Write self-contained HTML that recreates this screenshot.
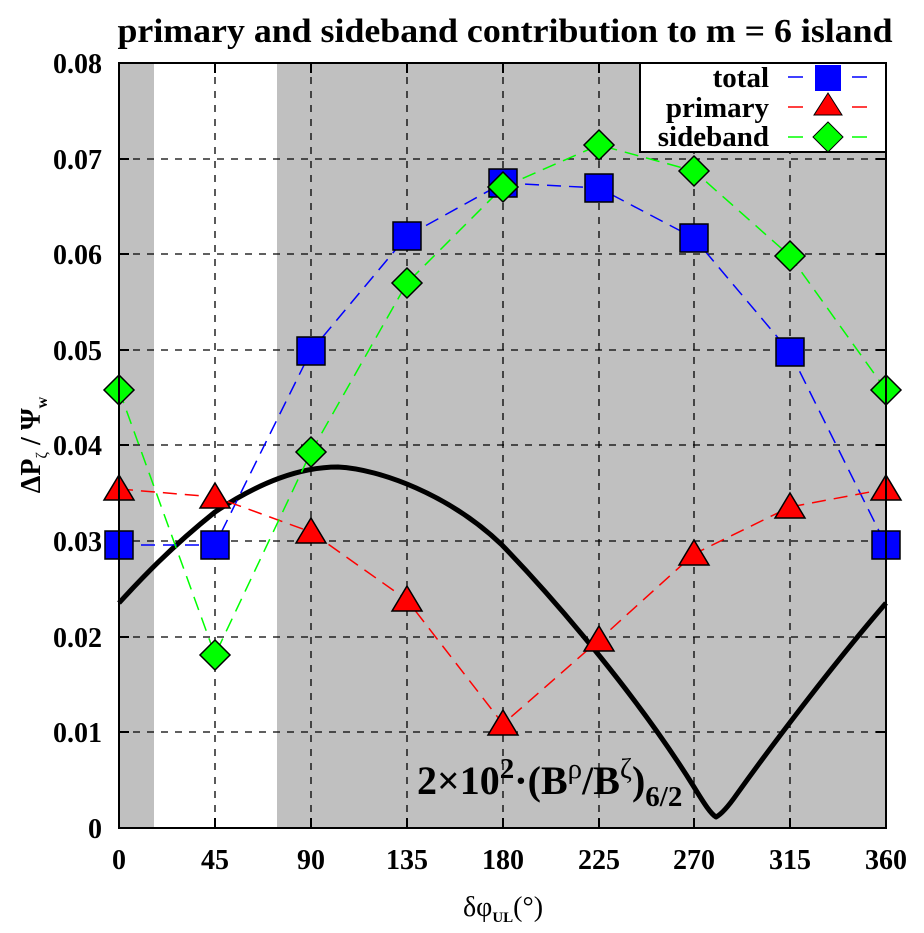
<!DOCTYPE html>
<html><head><meta charset="utf-8"><style>
body{margin:0;background:#fff}
text{font-family:"Liberation Serif",serif;font-weight:bold}
</style></head><body>
<svg width="924" height="928" viewBox="0 0 924 928" xmlns="http://www.w3.org/2000/svg">
<rect x="119" y="63" width="767" height="765" fill="#c0c0c0"/>
<rect x="154" y="63" width="123" height="765" fill="#fff"/>
<g stroke="#000" stroke-width="1.3" stroke-dasharray="7,7" fill="none">
<path d="M215 63V828M311 63V828M407 63V828M503 63V828M599 63V828M694 63V828M790 63V828"/>
<path d="M119 159H886M119 254H886M119 350H886M119 445H886M119 541H886M119 637H886M119 732H886"/>
</g>
<g stroke="#000" stroke-width="2">
<path d="M119 159h10M119 254h10M119 350h10M119 445h10M119 541h10M119 637h10M119 732h10"/>
<path d="M886 159h-10M886 254h-10M886 350h-10M886 445h-10M886 541h-10M886 637h-10M886 732h-10"/>
<path d="M215 828v-10M311 828v-10M407 828v-10M503 828v-10M599 828v-10M694 828v-10M790 828v-10"/>
<path d="M215 63v10M311 63v10M407 63v10M503 63v10M599 63v10M694 63v10M790 63v10"/>
</g>
<path fill="none" stroke="#000" stroke-width="5" stroke-linejoin="round" d="M119,603 C140,580 170,548 215,512 C260,482 300,467 338,467 C380,469 450,495 502,545 C560,605 640,700 694,787 C705,805 711,814 716,817 C722,814 730,804 737,794 C770,748 830,668 886,603"/>
<polyline fill="none" stroke="#0000ff" stroke-width="1.5" stroke-dasharray="14,8" points="119,545 215,545 311,351 407,236 503,183 599,188 694,238 790,352 886,545"/>
<polyline fill="none" stroke="#ff0000" stroke-width="1.5" stroke-dasharray="14,8" points="119,489 215,497 311,532 407,600 503,724 599,640 694,554 790,507 886,489"/>
<polyline fill="none" stroke="#00ff00" stroke-width="1.5" stroke-dasharray="14,8" points="119,390 215,655 311,452 407,283 503,187 599,145 694,171 790,256 886,390"/>
<g fill="#0000ff" stroke="#000" stroke-width="1.5">
<rect x="105" y="531" width="28" height="28"/><rect x="201" y="531" width="28" height="28"/><rect x="297" y="337" width="28" height="28"/><rect x="393" y="222" width="28" height="28"/><rect x="489" y="169" width="28" height="28"/><rect x="585" y="174" width="28" height="28"/><rect x="680" y="224" width="28" height="28"/><rect x="776" y="338" width="28" height="28"/><rect x="872" y="531" width="28" height="28"/>
</g>
<g fill="#ff0000" stroke="#000" stroke-width="1.5">
<path d="M119 475l15 25h-30z"/><path d="M215 483l15 25h-30z"/><path d="M311 518l15 25h-30z"/><path d="M407 586l15 25h-30z"/><path d="M503 710l15 25h-30z"/><path d="M599 626l15 25h-30z"/><path d="M694 540l15 25h-30z"/><path d="M790 493l15 25h-30z"/><path d="M886 475l15 25h-30z"/>
</g>
<g fill="#00ff00" stroke="#000" stroke-width="1.5">
<path d="M119 375l15 15-15 15-15-15z"/><path d="M215 640l15 15-15 15-15-15z"/><path d="M311 437l15 15-15 15-15-15z"/><path d="M407 268l15 15-15 15-15-15z"/><path d="M503 172l15 15-15 15-15-15z"/><path d="M599 130l15 15-15 15-15-15z"/><path d="M694 156l15 15-15 15-15-15z"/><path d="M790 241l15 15-15 15-15-15z"/><path d="M886 375l15 15-15 15-15-15z"/>
</g>
<rect x="119" y="63" width="767" height="765" fill="none" stroke="#000" stroke-width="2"/>
<rect x="640" y="63" width="246" height="89" fill="#fff" stroke="#000" stroke-width="2"/>
<g font-size="29" text-anchor="end">
<text x="769" y="87">total</text><text x="769" y="117">primary</text><text x="769" y="146">sideband</text>
</g>
<path d="M788 77h15M852 77h15" stroke="#0000ff" stroke-width="1.5"/>
<rect x="815" y="65" width="26" height="26" fill="#0000ff"/>
<path d="M788 107h15M852 107h15" stroke="#ff0000" stroke-width="1.5"/>
<path d="M828 93l14 22h-28z" fill="#ff0000" stroke="#000"/>
<path d="M788 137h15M852 137h15" stroke="#00ff00" stroke-width="1.5"/>
<path d="M828 122l15 15-15 15-15-15z" fill="#00ff00" stroke="#000"/>
<text x="505" y="42" font-size="34" text-anchor="middle" textLength="775" lengthAdjust="spacingAndGlyphs">primary and sideband contribution to m = 6 island</text>
<g font-size="28" text-anchor="end">
<text x="102" y="73">0.08</text><text x="102" y="169">0.07</text><text x="102" y="264">0.06</text><text x="102" y="360">0.05</text><text x="102" y="455">0.04</text><text x="102" y="551">0.03</text><text x="102" y="647">0.02</text><text x="102" y="742">0.01</text><text x="102" y="838">0</text>
</g>
<g font-size="28" text-anchor="middle">
<text x="119" y="869">0</text><text x="215" y="869">45</text><text x="311" y="869">90</text><text x="407" y="869">135</text><text x="503" y="869">180</text><text x="599" y="869">225</text><text x="694" y="869">270</text><text x="790" y="869">315</text><text x="886" y="869">360</text>
</g>
<text x="503" y="916" font-size="28" text-anchor="middle" style="font-weight:normal">δφ<tspan font-size="15" dy="6" style="font-weight:bold">UL</tspan><tspan dy="-6">(°)</tspan></text>
<text transform="translate(40,445) rotate(-90)" font-size="28" text-anchor="middle">ΔP<tspan font-size="16" dy="7" style="font-weight:normal">ζ</tspan><tspan dy="-7"> / Ψ</tspan><tspan font-size="16" dy="7">w</tspan></text>
<text x="417" y="794" font-size="40">2×10<tspan font-size="29" dy="-16">2</tspan><tspan dy="16">·(B</tspan><tspan font-size="29" dy="-16" style="font-weight:normal">ρ</tspan><tspan dy="16">/B</tspan><tspan font-size="29" dy="-16" style="font-weight:normal">ζ</tspan><tspan dy="16">)</tspan><tspan font-size="29" dy="12">6/2</tspan></text>
</svg>
</body></html>
